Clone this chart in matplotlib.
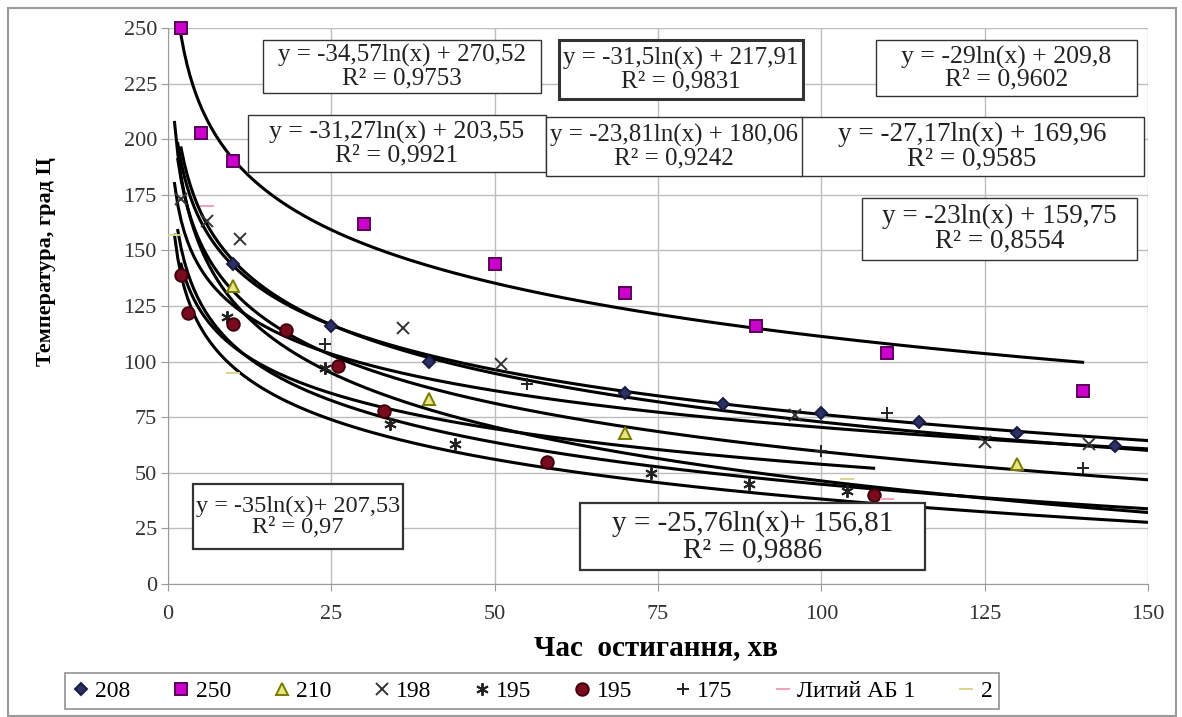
import numpy as np
import matplotlib
matplotlib.use("Agg")
import matplotlib.pyplot as plt
from matplotlib.patches import Rectangle

plt.rcParams['font.family'] = ['Liberation Serif', 'DejaVu Serif']

# ---------------- data ----------------
names = ["208", "250", "210", "198", "195", "195", "175", "Литий АБ 1", "2"]

x_208 = [10, 25, 40, 70, 85, 100, 115, 130, 145]
y_208 = [144, 116, 100, 86, 81, 77, 73, 68, 62]
x_250 = [2, 5, 10, 30, 50, 70, 90, 110, 140]
y_250 = [250, 203, 190, 162, 144, 131, 116, 104, 87]
x_210 = [10, 40, 70, 130]
y_210 = [134, 83, 68, 54]
x_198 = [2, 6, 11, 36, 51, 96, 125, 141]
y_198 = [173, 163, 155, 115, 99, 76, 64, 63]
x_195a = [9, 24, 34, 44, 74, 89, 104]
y_195a = [120, 97, 72, 63, 50, 45, 42]
x_195b = [2, 3, 10, 18, 26, 33, 58, 108]
y_195b = [139, 122, 117, 114, 98, 78, 55, 40]
x_175 = [24, 55, 100, 110, 140]
y_175 = [108, 90, 60, 77, 52]
x_ab1 = [6, 110]
y_ab1 = [170, 38]
x_2 = [1, 10, 104]
y_2 = [157, 95, 47]

xs = [x_208, x_250, x_210, x_198, x_195a, x_195b, x_175, x_ab1, x_2]
ys = [y_208, y_250, y_210, y_198, y_195a, y_195b, y_175, y_ab1, y_2]

# logarithmic trend lines  y = a*ln(x) + b, drawn over [x0, x1]
fit_a = [-29, -34.57, -31.27, -31.5, -27.17, -23, -23.81, -35, -25.76]
fit_b = [209.8, 270.52, 203.55, 217.91, 169.96, 159.75, 180.06, 207.53, 156.81]
fit_r2 = ["0,9602", "0,9753", "0,9921", "0,9831", "0,9585", "0,8554", "0,9242", "0,97", "0,9886"]
fit_x0 = [1.5, 2, 1.5, 2, 1.5, 2, 1, 1, 1]
fit_x1 = [150, 140, 150, 150, 150, 108, 150, 150, 150]

# ---------------- styles ----------------
markers = ['D', 's', '^', 'x', (6, 2, 0), 'o', '+', '_', '_']
msizes = [6, 9, 8, 8, 9, 9, 9, 10, 10]
faces = ['#2B3163', '#CC00CC', '#E6E680', '#333333', '#222222', '#7A0A1E', '#222222', '#F2A0B4', '#D9D48C']
edges = ['#1A1A40', '#5C005C', '#7A7A00', '#333333', '#222222', '#40000C', '#222222', '#F2A0B4', '#D9D48C']

W, H = 1182, 717
fig = plt.figure(figsize=(W / 100, H / 100), dpi=100)
ax = fig.add_axes([168 / W, 1 - 584 / H, (1148 - 168) / W, (584 - 28) / H])

ax.set_xlim(0, 150)
ax.set_ylim(0, 250)
ax.set_xticks(np.arange(0, 151, 25))
ax.set_yticks(np.arange(0, 251, 25))
ax.grid(True, color='#BDBDBD', lw=1.0)
ax.set_axisbelow(True)
for s in ['top', 'right']:
    ax.spines[s].set_visible(False)
for s in ['left', 'bottom']:
    ax.spines[s].set_color('#9A9A9A')
ax.tick_params(colors='#9A9A9A', labelcolor='#333333', labelsize=16, length=5)
ax.tick_params(axis='y', pad=3)
ax.tick_params(axis='x', pad=10)

for i in range(len(names)):
    ax.plot(xs[i], ys[i], linestyle='none', marker=markers[i], ms=msizes[i],
            mfc=faces[i], mec=edges[i], mew=1.4, label=names[i], zorder=4,
            clip_on=False)
    xx = np.linspace(fit_x0[i], fit_x1[i], 300)
    ax.plot(xx, fit_a[i] * np.log(xx) + fit_b[i], color='black', lw=2.2, zorder=3)

fig.text(46 / W, 1 - 262 / H, "Температура, град Ц", rotation=90, ha='center',
         va='center', fontsize=16, fontweight='bold')
fig.text(656 / W, 1 - 648 / H, "Час  остигання, хв", ha='center', va='center',
         fontsize=21, fontweight='bold')

# ---------------- equation boxes (pixel extents) ----------------
def eq_text(i, sep=" + "):
    a = ("%g" % fit_a[i]).replace('.', ',')
    b = ("%g" % fit_b[i]).replace('.', ',')
    return "y = %sln(x)%s%s\nR² = %s" % (a, sep, b, fit_r2[i])

boxes = [  # (series index, left, top, right, bottom, fontsize, edge lw, sep)
    (1, 263, 40, 541, 93, 18, 1.0, " + "),
    (3, 559, 40, 803, 99, 18, 2.2, " + "),
    (0, 876, 40, 1137, 96, 18.5, 1.0, " + "),
    (2, 248, 115, 546, 172, 18.5, 1.0, " + "),
    (4, 800, 117, 1144, 176, 19.5, 1.0, " + "),
    (6, 546, 117, 802, 176, 18, 1.0, " + "),
    (5, 862, 198, 1137, 260, 19.5, 1.0, " + "),
    (7, 193, 484, 403, 549, 17.5, 1.6, "+ "),
    (8, 580, 503, 925, 570, 21, 1.6, "+ "),
]
z = 10
for i, l, t, r, b, fs, lw, sep in boxes:
    fig.patches.append(Rectangle((l / W, 1 - b / H), (r - l) / W, (b - t) / H,
                                 transform=fig.transFigure, fc='white',
                                 ec='#333333', lw=lw, zorder=z))
    fig.text((l + r) / 2 / W, 1 - (t + b) / 2 / H, eq_text(i, sep), ha='center',
             va='center', multialignment='center', fontsize=fs,
             color='#222222', linespacing=1.0, zorder=z + 0.5)
    z += 1

leg = ax.legend(loc='center', bbox_to_anchor=(532 / W, 1 - 691 / H),
                bbox_transform=fig.transFigure, ncol=9, fontsize=17,
                frameon=True, fancybox=False, handlelength=0.8,
                handletextpad=0.2, columnspacing=1.75, borderpad=0.3,
                edgecolor='#777777')
leg.get_frame().set_linewidth(1.2)

# outer chart border
fig.patches.append(Rectangle((8 / W, 0.002), (1176 - 8) / W, 1 - 8 / H - 0.002,
                             transform=fig.transFigure, fill=False,
                             ec='#9A9A9A', lw=1.5, zorder=0))

fig.savefig("out.png", dpi=100)
